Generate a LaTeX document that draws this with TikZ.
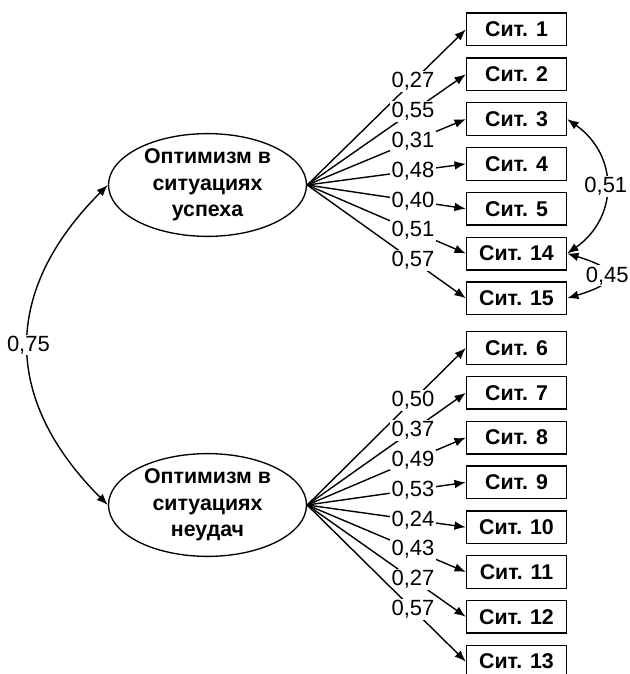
\documentclass[tikz,border=0pt]{standalone}
\usepackage{fontspec}
\setmainfont{Liberation Sans}
\usetikzlibrary{arrows.meta,shapes.geometric}

\begin{document}
\begin{tikzpicture}
[x=.75pt,y=.75pt,
 box/.style={draw,line width=1pt,minimum width=75pt,minimum height=24.5pt,inner sep=0pt,font=\fontsize{16}{19}\selectfont\bfseries},
 factor/.style={draw,ellipse,line width=1pt,minimum width=148.5pt,minimum height=74pt,inner sep=0pt,align=center,font=\fontsize{16}{20}\selectfont\bfseries},
 coef/.style={fill=white,inner sep=1pt,font=\fontsize{16.5}{19}\selectfont},
 load/.style={line width=1.05pt,-{Latex[length=8.5pt,width=6.5pt]}},
 cov/.style={line width=1.05pt,{Latex[length=8.5pt,width=6.5pt]}-{Latex[length=8.5pt,width=6.5pt]}}]
\useasboundingbox (0,0) rectangle (630,-674);

\node[factor] (f1) at (207.5,-185) {Оптимизм в\\ситуациях\\успеха};
\node[factor] (f2) at (207.5,-505) {Оптимизм в\\ситуациях\\неудач};

\node[box] (s1) at (516.5,-29.5) {Сит. 1};
\node[box] (s2) at (516.5,-74.3) {Сит. 2};
\node[box] (s3) at (516.5,-119.1) {Сит. 3};
\node[box] (s4) at (516.5,-163.9) {Сит. 4};
\node[box] (s5) at (516.5,-208.7) {Сит. 5};
\node[box] (s14) at (516.5,-253.5) {Сит. 14};
\node[box] (s15) at (516.5,-298.3) {Сит. 15};

\node[box] (s6) at (516.5,-348) {Сит. 6};
\node[box] (s7) at (516.5,-392.8) {Сит. 7};
\node[box] (s8) at (516.5,-437.6) {Сит. 8};
\node[box] (s9) at (516.5,-482.4) {Сит. 9};
\node[box] (s10) at (516.5,-527.2) {Сит. 10};
\node[box] (s11) at (516.5,-572) {Сит. 11};
\node[box] (s12) at (516.5,-616.8) {Сит. 12};
\node[box] (s13) at (516.5,-661.6) {Сит. 13};

\foreach \from/\to/\w in {f1/s1/27,f1/s2/55,f1/s3/31,f1/s4/48,f1/s5/40,f1/s14/51,f1/s15/57,f2/s6/50,f2/s7/37,f2/s8/49,f2/s9/53,f2/s10/24,f2/s11/43,f2/s12/27,f2/s13/57}
\draw[load] (\from.east) -- (\to.west) node[coef,pos=.667] {0,\w};

\draw[cov] (f1.west) to[bend right=45,looseness=1.2] node[coef] {0,75} (f2.west);
\draw[cov] (s3.east) to[bend left=55,looseness=1.2] node[coef] {0,51} (s14.east);
\draw[cov] (s14.east) to[bend left=73,looseness=3.2] node[coef] {0,45} (s15.east);
\end{tikzpicture}
\end{document}
